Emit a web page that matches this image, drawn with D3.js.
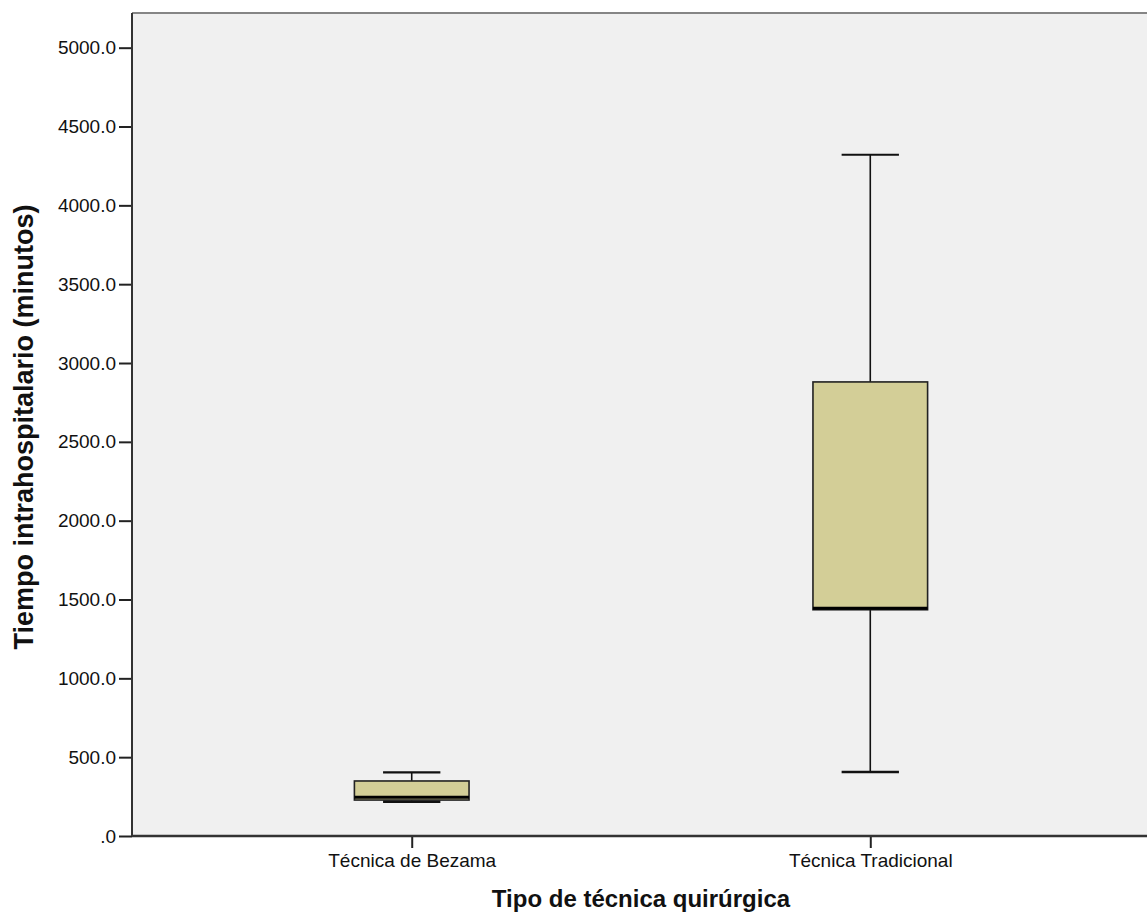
<!DOCTYPE html>
<html>
<head>
<meta charset="utf-8">
<script src="https://cdn.jsdelivr.net/npm/d3@7"></script>
<style>
  body { margin: 0; background: #fff; }
  svg { display: block; font-family: "Liberation Sans", Arial, sans-serif; }
</style>
</head>
<body>
<div id="chart"></div>
<script>
// data
var categories = ["Técnica de Bezama", "Técnica Tradicional"];
var mins    = [218, 406];
var q1s     = [228, 1435];
var medians = [245, 1445];
var q3s     = [349, 2880];
var maxs    = [404, 4321];
var yTicks  = [0, 500, 1000, 1500, 2000, 2500, 3000, 3500, 4000, 4500, 5000];
var yMax = 5220;

var width = 1147, height = 924;
var margin = { top: 13, right: -3, bottom: 88, left: 132 };

var svg = d3.select("#chart").append("svg")
    .attr("width", width)
    .attr("height", height);

var x = d3.scalePoint()
    .domain(categories)
    .range([margin.left, width - margin.right])
    .padding(0.61);

var y = d3.scaleLinear()
    .domain([0, yMax])
    .range([height - margin.bottom, margin.top]);

var step = x.step();
var boxW = step * 0.25;
var capW = boxW / 2;

// plot background
svg.append("rect")
    .attr("x", margin.left)
    .attr("y", margin.top)
    .attr("width", width - margin.left - margin.right)
    .attr("height", y(0) - margin.top)
    .attr("fill", "#f0f0f0");

// top border
svg.append("line")
    .attr("x1", margin.left).attr("x2", width)
    .attr("y1", margin.top).attr("y2", margin.top)
    .attr("stroke", "#858585").attr("stroke-width", 2);

// y axis
var yAxis = d3.axisLeft(y)
    .tickValues(yTicks)
    .tickSize(13)
    .tickPadding(3)
    .tickFormat(function(d){ return d === 0 ? ".0" : d.toFixed(1); });
var gy = svg.append("g")
    .attr("transform", "translate(" + margin.left + ",0)")
    .call(yAxis);
gy.select(".domain").remove();
gy.selectAll(".tick line").attr("stroke", "#222").attr("stroke-width", 2);
gy.selectAll(".tick text").style("font-size", "19px").attr("fill", "#111");
svg.append("line")
    .attr("x1", margin.left).attr("x2", margin.left)
    .attr("y1", margin.top).attr("y2", y(0))
    .attr("stroke", "#333").attr("stroke-width", 2);

// x axis
var xAxis = d3.axisBottom(x).tickSize(12).tickPadding(6);
var gx = svg.append("g")
    .attr("transform", "translate(0," + y(0) + ")")
    .call(xAxis);
gx.select(".domain").remove();
gx.selectAll(".tick line").attr("stroke", "#222").attr("stroke-width", 2);
gx.selectAll(".tick text").style("font-size", "19px").attr("fill", "#111");
svg.append("line")
    .attr("x1", margin.left).attr("x2", width)
    .attr("y1", y(0)).attr("y2", y(0))
    .attr("stroke", "#333").attr("stroke-width", 2.5);

// boxes
var boxes = svg.selectAll(".box")
    .data(categories)
    .enter().append("g")
    .attr("class", "box");

// whiskers
boxes.append("line")
    .attr("x1", function(d){ return x(d); })
    .attr("x2", function(d){ return x(d); })
    .attr("y1", function(d,i){ return y(q3s[i]); })
    .attr("y2", function(d,i){ return y(maxs[i]); })
    .attr("stroke", "#111").attr("stroke-width", 1.6);
boxes.append("line")
    .attr("x1", function(d){ return x(d); })
    .attr("x2", function(d){ return x(d); })
    .attr("y1", function(d,i){ return y(q1s[i]); })
    .attr("y2", function(d,i){ return y(mins[i]); })
    .attr("stroke", "#111").attr("stroke-width", 1.6);
// caps
boxes.append("line")
    .attr("x1", function(d){ return x(d) - capW/2; })
    .attr("x2", function(d){ return x(d) + capW/2; })
    .attr("y1", function(d,i){ return y(maxs[i]); })
    .attr("y2", function(d,i){ return y(maxs[i]); })
    .attr("stroke", "#111").attr("stroke-width", 2.2);
boxes.append("line")
    .attr("x1", function(d){ return x(d) - capW/2; })
    .attr("x2", function(d){ return x(d) + capW/2; })
    .attr("y1", function(d,i){ return y(mins[i]); })
    .attr("y2", function(d,i){ return y(mins[i]); })
    .attr("stroke", "#111").attr("stroke-width", 2.6);

boxes.append("rect")
    .attr("x", function(d){ return x(d) - boxW/2; })
    .attr("y", function(d,i){ return y(q3s[i]); })
    .attr("width", boxW)
    .attr("height", function(d,i){ return y(q1s[i]) - y(q3s[i]); })
    .attr("fill", "#d3ce97")
    .attr("stroke", "#222")
    .attr("stroke-width", 1.6);

// median
boxes.append("line")
    .attr("x1", function(d){ return x(d) - boxW/2; })
    .attr("x2", function(d){ return x(d) + boxW/2; })
    .attr("y1", function(d,i){ return y(medians[i]); })
    .attr("y2", function(d,i){ return y(medians[i]); })
    .attr("stroke", "#000").attr("stroke-width", 3);

// axis titles
svg.append("text")
    .attr("x", 641)
    .attr("y", 907)
    .attr("text-anchor", "middle")
    .style("font-size", "24px")
    .style("font-weight", "bold")
    .attr("fill", "#111")
    .text("Tipo de técnica quirúrgica");

svg.append("text")
    .attr("transform", "translate(33," + 427 + ") rotate(-90)")
    .attr("text-anchor", "middle")
    .style("font-size", "27px")
    .style("font-weight", "bold")
    .attr("fill", "#111")
    .text("Tiempo intrahospitalario (minutos)");
</script>
</body>
</html>
